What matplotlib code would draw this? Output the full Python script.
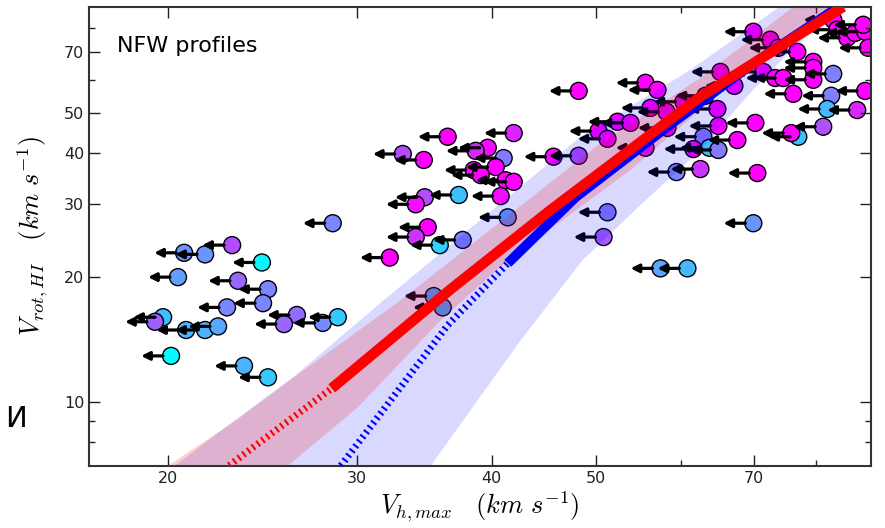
import numpy as np
import matplotlib
matplotlib.use('Agg')
import matplotlib.pyplot as plt
from matplotlib.ticker import NullFormatter

plt.rcParams['mathtext.fontset'] = 'cm'

# galaxies: V_h,max upper limits (km/s), V_rot,HI (km/s), colour value (cool cmap)
vh = [22.95, 21.66, 20.71, 24.46, 20.44, 23.24, 24.78, 22.70, 24.52, 19.80,
      19.46, 20.80, 21.66, 22.27, 26.36, 25.64, 27.86, 28.77, 20.14, 23.54,
      24.78, 28.46, 35.32, 36.01, 36.39, 41.91, 39.65, 38.64, 33.06, 34.58,
      41.02, 40.33, 38.48, 39.06, 41.20, 41.91, 40.76, 37.27, 34.65, 33.99,
      41.38, 34.87, 33.99, 37.58, 35.78, 32.15, 45.64, 48.16, 50.25, 51.22,
      51.22, 50.79, 57.37, 60.77, 69.97, 48.16, 55.56, 57.00, 60.25, 56.15,
      58.11, 52.33, 53.80, 58.23, 55.56, 62.88, 61.55, 63.69, 64.93, 67.62,
      64.93, 70.27, 64.79, 59.36, 62.48, 70.57, 65.21, 67.19, 69.97, 72.56,
      73.81, 76.86, 79.54, 79.54, 83.01, 71.48, 73.33, 74.60, 79.54, 76.21,
      82.65, 88.88, 63.15, 81.95, 87.37, 81.25, 77.03, 75.88, 83.01, 83.72,
      85.53, 87.00, 88.88, 88.50, 89.45]
vrot = [23.9, 22.7, 22.9, 21.7, 20.0, 19.6, 18.7, 16.9, 17.3, 16.0,
        15.6, 14.9, 14.9, 15.2, 16.2, 15.4, 15.5, 16.0, 12.9, 12.2,
        11.45, 27.0, 18.0, 16.9, 43.7, 44.6, 41.1, 40.4, 39.7, 38.4,
        38.8, 36.9, 36.3, 35.3, 34.3, 34.0, 31.4, 31.6, 31.2, 30.0,
        27.9, 26.4, 25.0, 24.6, 23.9, 22.3, 39.1, 39.3, 45.1, 43.2,
        28.7, 25.0, 21.0, 21.0, 27.0, 56.4, 59.0, 56.7, 53.1, 51.3,
        50.2, 47.5, 47.2, 45.9, 41.1, 43.7, 40.8, 41.1, 40.6, 42.9,
        46.4, 47.2, 51.0, 35.9, 36.5, 35.7, 62.7, 58.0, 78.4, 75.0,
        71.7, 70.1, 66.3, 64.1, 62.0, 62.7, 60.6, 60.6, 60.0, 55.5,
        54.9, 56.4, 54.9, 51.0, 50.7, 46.2, 43.7, 44.6, 83.8, 79.3,
        75.8, 77.9, 78.4, 81.5, 71.7]
cval = [0.70, 0.42, 0.42, 0.05, 0.38, 0.60, 0.48, 0.48, 0.48, 0.25,
        0.62, 0.30, 0.30, 0.35, 0.58, 0.60, 0.45, 0.22, 0.02, 0.30,
        0.22, 0.48, 0.30, 0.30, 1.00, 0.85, 0.95, 0.85, 0.70, 1.00,
        0.52, 1.00, 0.95, 1.00, 1.00, 1.00, 0.95, 0.25, 0.70, 0.95,
        0.38, 1.00, 0.80, 0.50, 0.18, 1.00, 0.95, 0.70, 1.00, 1.00,
        0.52, 0.65, 0.35, 0.28, 0.42, 1.00, 1.00, 1.00, 1.00, 1.00,
        1.00, 1.00, 1.00, 1.00, 0.85, 0.52, 1.00, 0.28, 0.52, 1.00,
        1.00, 1.00, 1.00, 0.48, 0.80, 1.00, 1.00, 1.00, 1.00, 1.00,
        1.00, 1.00, 1.00, 1.00, 0.50, 1.00, 1.00, 1.00, 1.00, 1.00,
        0.50, 1.00, 1.00, 0.28, 0.85, 0.68, 0.25, 1.00, 1.00, 1.00,
        1.00, 1.00, 1.00, 1.00, 1.00]

# model relations (red / blue), dashed below the data range
red_dash_x = [22.8, 28.4]
red_dash_y = [7.01, 10.77]
red_x = [28.4, 36.63, 45.35, 62.48, 84.8]
red_y = [10.77, 18.7, 29.06, 54.6, 90.1]
blue_dash_x = [28.96, 36.39, 41.38]
blue_dash_y = [7.0, 15.3, 21.6]
blue_x = [41.38, 47.85, 58.35, 70.0, 84.0]
blue_y = [21.6, 31.2, 46.4, 65.8, 90.1]

# scatter bands
red_up_x = [20.01, 23.14, 26.59, 32.92, 50.47, 62.48, 76.26]
red_up_y = [7.0, 9.01, 11.78, 17.6, 42.2, 60.65, 90.1]
red_lo_x = [25.86, 30.03, 35.86, 41.20, 53.80, 66.09, 86.3]
red_lo_y = [7.0, 9.69, 15.74, 21.74, 36.3, 57.7, 91.1]
blue_up_x = [20.3, 23.0, 26.3, 31.75, 48.36, 61.16, 74.01]
blue_up_y = [7.0, 8.95, 11.6, 17.6, 43.66, 63.4, 90.1]
blue_lo_x = [35.10, 42.54, 48.57, 54.97, 62.48, 69.27, 75.93, 84.5, 86.5]
blue_lo_y = [7.0, 14.07, 21.98, 29.88, 40.6, 55.2, 70.9, 88.6, 91.4]

fig = plt.figure(figsize=(8.85, 5.28), dpi=100)
ax = fig.add_axes([0.1006, 0.118, 0.8836, 0.8688])
ax.set_xscale('log')
ax.set_yscale('log')

cmap = plt.get_cmap('cool')
ax.scatter(vh, vrot, c=cval, cmap=cmap, vmin=0, vmax=1, s=150,
           edgecolors='k', linewidths=1.0, zorder=1.5)

# upper-limit arrows
for x, y in zip(vh, vrot):
    ax.annotate('', xy=(x * 0.938, y), xytext=(x * 0.983, y),
                arrowprops=dict(arrowstyle='-|>', color='k', lw=2.3,
                                mutation_scale=12, shrinkA=0, shrinkB=0),
                zorder=2)

ax.fill(np.r_[blue_up_x, blue_lo_x[::-1]], np.r_[blue_up_y, blue_lo_y[::-1]],
        color='blue', alpha=0.15, lw=0, zorder=3)
ax.fill(np.r_[red_up_x, red_lo_x[::-1]], np.r_[red_up_y, red_lo_y[::-1]],
        color='red', alpha=0.18, lw=0, zorder=3)

ax.plot(blue_dash_x, blue_dash_y, color='blue', lw=5, ls=(0, (0.3, 0.55)), zorder=4)
ax.plot(blue_x, blue_y, color='blue', lw=7, solid_capstyle='butt', zorder=4)
ax.plot(red_dash_x, red_dash_y, color='red', lw=5, ls=(0, (0.3, 0.55)), zorder=4)
ax.plot(red_x, red_y, color='red', lw=7.5, solid_capstyle='butt', zorder=4)

ax.set_xlim(16.9, 90)
ax.set_ylim(7.0, 90)

ax.set_xticks([20, 30, 40, 50, 70])
ax.set_xticklabels(['20', '30', '40', '50', '70'])
ax.set_xticks([60, 80], minor=True)
ax.xaxis.set_minor_formatter(NullFormatter())
ax.set_yticks([10, 20, 30, 40, 50, 70])
ax.set_yticklabels(['10', '20', '30', '40', '50', '70'])
ax.set_yticks([8, 9, 60, 80], minor=True)
ax.yaxis.set_minor_formatter(NullFormatter())
ax.tick_params(which='both', direction='in', top=True, right=True, labelsize=11.5,
               colors='#222222')
ax.tick_params(which='major', length=8, width=1)
ax.tick_params(which='minor', length=4, width=1)
for sp in ax.spines.values():
    sp.set_linewidth(1.5)
    sp.set_color('#333333')

ax.set_xlabel(r'$V_{h,max}\quad (km\ s^{-1})$', fontsize=19, labelpad=3)
ax.set_ylabel(r'$V_{rot,HI}\quad (km\ s^{-1})$', fontsize=19, labelpad=10)

ax.text(0.036, 0.902, 'NFW profiles', transform=ax.transAxes, fontsize=16,
        va='baseline', ha='left')
fig.text(0.006, 0.192, 'И', fontsize=21, va='baseline', ha='left')

fig.savefig('out.png', dpi=100)
